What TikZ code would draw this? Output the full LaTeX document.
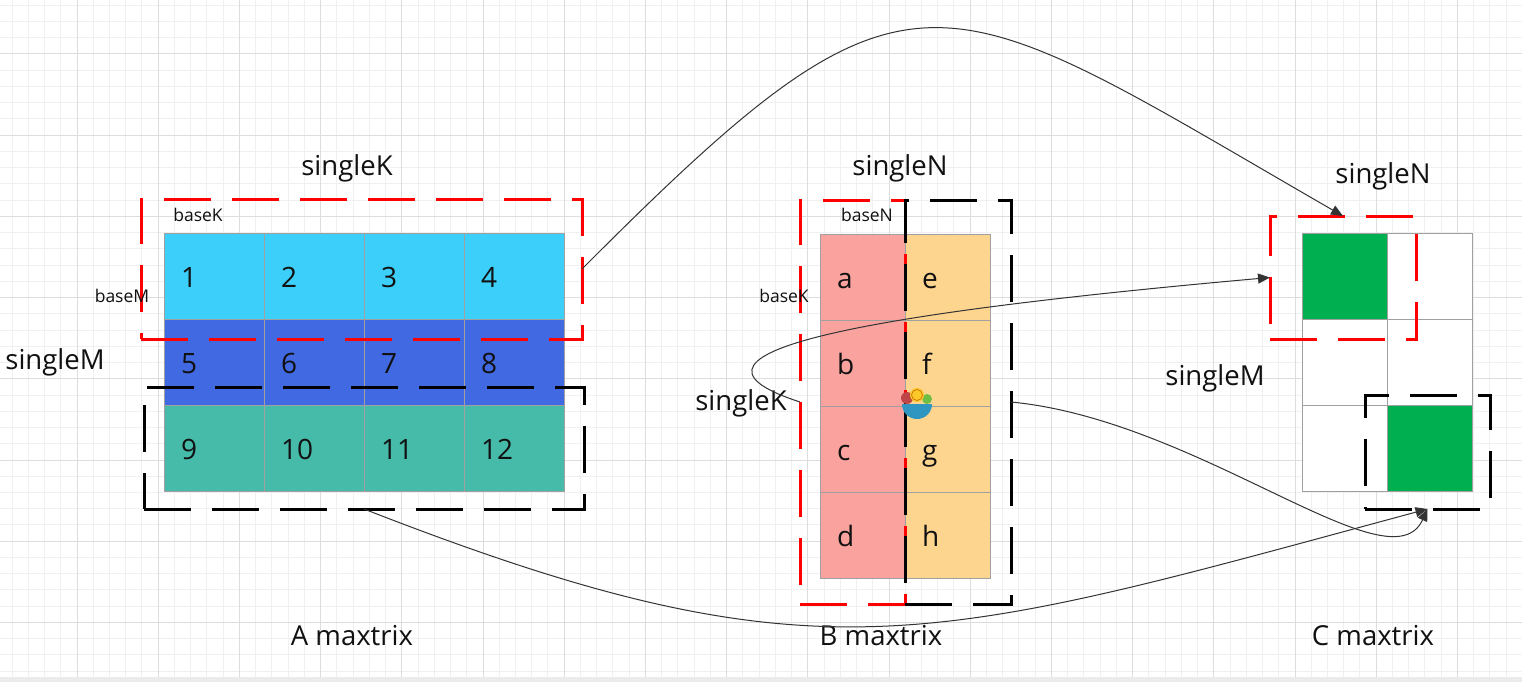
\documentclass[tikz,border=0pt]{standalone}
\usepackage{fontspec}
\setmainfont{Open Sans}
\usetikzlibrary{arrows.meta}
\definecolor{gridminor}{HTML}{F0F0F0}
\definecolor{gridmajor}{HTML}{DDDDDD}
\definecolor{aone}{RGB}{59,207,250}
\definecolor{atwo}{RGB}{65,105,225}
\definecolor{athree}{RGB}{71,187,170}
\definecolor{bleft}{RGB}{249,162,158}
\definecolor{bright}{RGB}{254,213,143}
\definecolor{cgreen}{RGB}{0,176,80}
\definecolor{cellline}{HTML}{A0A0A0}
\definecolor{ink}{HTML}{111111}
\definecolor{wire}{HTML}{333333}
\definecolor{boxred}{RGB}{255,0,0}
\definecolor{bowlblue}{RGB}{46,150,192}
\definecolor{fruitred}{RGB}{190,70,70}
\definecolor{lemon}{RGB}{250,200,40}
\definecolor{leaf}{RGB}{110,190,70}
\tikzset{
  cellbase/.style={draw=cellline, line width=1pt, inner ysep=0pt, minimum height=86pt,
    align=left, font=\fontsize{28pt}{32pt}\selectfont, text=ink, text height=22pt, text depth=0pt},
  acell/.style={cellbase, text width=66pt, inner xsep=17pt},
  bcell/.style={cellbase, text width=51pt, inner xsep=17pt},
  ccell/.style={cellbase, minimum width=85pt, inner sep=0pt},
  dbox/.style={line width=3pt, dash pattern=on 47pt off 21pt, inner sep=0pt, outer sep=0pt},
  redbox/.style={dbox, draw=boxred},
  blkbox/.style={dbox, draw=black},
  biglabel/.style={font=\fontsize{27.5pt}{31pt}\selectfont, text=ink, inner sep=0pt},
  smalllabel/.style={font=\fontsize{17.5pt}{20pt}\selectfont, text=ink, inner sep=0pt},
  wirearrow/.style={draw=wire, line width=1pt, -{Triangle[length=12pt,width=10pt]}},
}
\begin{document}
\begin{tikzpicture}[x=1pt, y=-1pt]
\useasboundingbox (0,0) rectangle (1522,682);
\fill[white] (0,0) rectangle (1522,682);
% background grid
\begin{scope}
\clip (0,0) rectangle (1522,682);
\foreach \i in {0,...,95} {
  \draw[gridminor, line width=1pt] ({-4.2+\i*16.24},0) -- ({-4.2+\i*16.24},682);
}
\foreach \i in {0,...,44} {
  \draw[gridminor, line width=1pt] (0,{-27.2+\i*16.24}) -- (1522,{-27.2+\i*16.24});
}
\foreach \i in {0,...,19} {
  \draw[gridmajor, line width=1pt] ({-4.2+\i*81.2},0) -- ({-4.2+\i*81.2},682);
}
\foreach \i in {0,...,9} {
  \draw[gridmajor, line width=1pt] (0,{-27.2+\i*81.2}) -- (1522,{-27.2+\i*81.2});
}
\fill[black!8] (0,677) rectangle (1522,682);
\end{scope}

% ---------- A matrix ----------
\node[acell, fill=aone] (A1) at (214,276) {1};
\node[acell, fill=aone] (A2) at (314,276) {2};
\node[acell, fill=aone] (A3) at (414,276) {3};
\node[acell, fill=aone] (A4) at (514,276) {4};
\node[acell, fill=atwo] (A5) at (214,362) {5};
\node[acell, fill=atwo] (A6) at (314,362) {6};
\node[acell, fill=atwo] (A7) at (414,362) {7};
\node[acell, fill=atwo] (A8) at (514,362) {8};
\node[acell, fill=athree] (A9) at (214,448) {9};
\node[acell, fill=athree] (A10) at (314,448) {10};
\node[acell, fill=athree] (A11) at (414,448) {11};
\node[acell, fill=athree] (A12) at (514,448) {12};

% ---------- B matrix ----------
\node[bcell, fill=bleft] (Ba) at (862.5,277) {a};
\node[bcell, fill=bleft] (Bb) at (862.5,363) {b};
\node[bcell, fill=bleft] (Bc) at (862.5,449) {c};
\node[bcell, fill=bleft] (Bd) at (862.5,535) {d};
\node[bcell, fill=bright] (Be) at (947.5,277) {e};
\node[bcell, fill=bright] (Bf) at (947.5,363) {f};
\node[bcell, fill=bright] (Bg) at (947.5,449) {g};
\node[bcell, fill=bright] (Bh) at (947.5,535) {h};

% ---------- C matrix ----------
\node[ccell, fill=cgreen] (C11) at (1344.5,276) {};
\node[ccell, fill=white] (C12) at (1429.5,276) {};
\node[ccell, fill=white] (C21) at (1344.5,362) {};
\node[ccell, fill=white] (C22) at (1429.5,362) {};
\node[ccell, fill=white] (C31) at (1344.5,448) {};
\node[ccell, fill=cgreen] (C32) at (1429.5,448) {};

% ---------- dashed boxes ----------
\node[redbox, minimum width=441pt, minimum height=140pt] (Ared) at (361.5,269) {};
\node[blkbox, minimum width=440pt, minimum height=122pt] (Ablk) at (364,448) {};
\node[redbox, minimum width=105pt, minimum height=404pt] (Bred) at (852.5,402) {};
\node[blkbox, minimum width=106pt, minimum height=404pt] (Bblk) at (958,402) {};
\node[redbox, minimum width=146pt, minimum height=123pt] (Cred) at (1343,277.5) {};
\node[blkbox, minimum width=125pt, minimum height=114pt] (Cblk) at (1427.5,452) {};

% ---------- labels ----------
\node[biglabel] (lsKA) at (347,168) {singleK};
\node[smalllabel] (lbKA) at (198,215) {baseK};
\node[smalllabel] (lbMA) at (122,296) {baseM};
\node[biglabel] (lsMA) at (55,362) {singleM};
\node[biglabel] (lsNB) at (900,168) {singleN};
\node[smalllabel] (lbNB) at (867,215) {baseN};
\node[smalllabel] (lbKB) at (784,296) {baseK};
\node[biglabel] (lsKB) at (741,403) {singleK};
\node[biglabel] (lsNC) at (1383,176) {singleN};
\node[biglabel] (lsMC) at (1215,378) {singleM};
\node[biglabel] (tA) at (352,636) {A maxtrix};
\node[biglabel] (tB) at (881,636) {B maxtrix};
\node[biglabel] (tC) at (1373,636) {C maxtrix};

% ---------- connectors ----------
\draw[wirearrow] (Ared.east) .. controls +(333,-334) and +(-411,-237) .. (Cred.north);
\draw[wirearrow] (Bred.west) .. controls +(-160,-52) and +(-370,33) .. (Cred.west);
\draw[wirearrow] (Bblk.east) .. controls +(189,18) and +(-37,81) .. (Cblk.south);
\draw[wirearrow] (Ablk.south) .. controls +(456,178) and +(-497,134) .. (Cblk.south);

% ---------- small fruit-bowl icon ----------
\fill[fruitred] (907,398) circle (6);
\fill[leaf] (927,399) circle (5);
\fill[lemon] (917,395) circle (7);
\draw[orange!80!black, line width=0.6pt] (917,395) circle (5.5);
\fill[bowlblue] (902,404) -- (932,404) arc[start angle=0, end angle=180, radius=15] -- cycle;
\end{tikzpicture}
\end{document}
